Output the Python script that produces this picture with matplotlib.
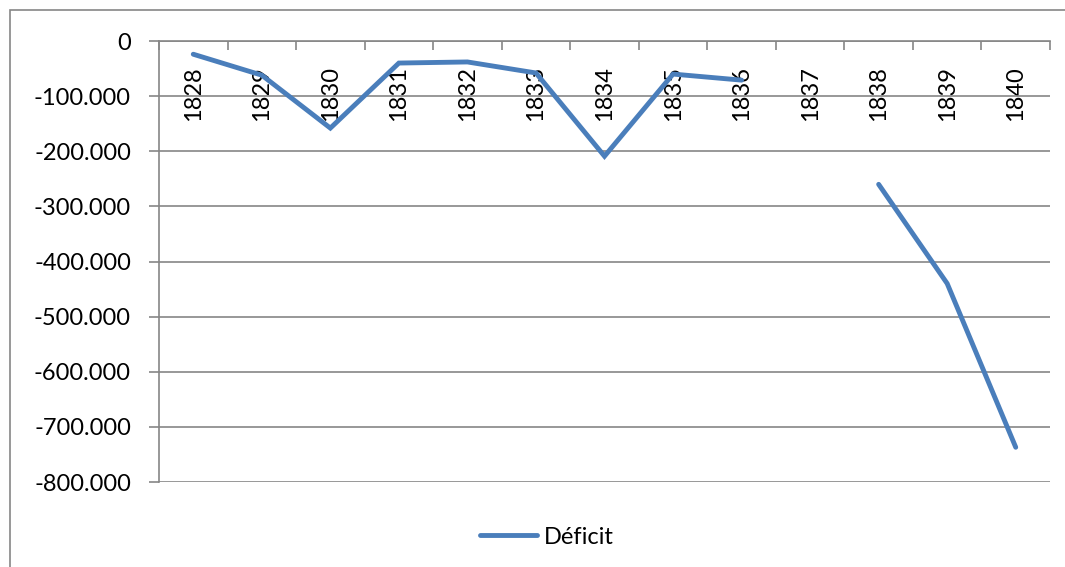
import numpy as np
import matplotlib
matplotlib.use("Agg")
import matplotlib.pyplot as plt
from matplotlib.patches import Rectangle
from matplotlib.ticker import FixedLocator, FixedFormatter, FuncFormatter

years = ["1828", "1829", "1830", "1831", "1832", "1833", "1834",
         "1835", "1836", "1837", "1838", "1839", "1840"]
deficit = [-24000, -62000, -158000, -40000, -38000, -58000, -209000,
           -60000, -71000, np.nan, -260000, -440000, -737000]
series_name = "Déficit"
yticks = [0, -100000, -200000, -300000, -400000, -500000, -600000, -700000, -800000]

plt.rcParams['font.family'] = ['Lato', 'DejaVu Sans']

W, H = 1065, 567
fig = plt.figure(figsize=(W / 100, H / 100), dpi=100)
ax = fig.add_axes([159 / W, 1 - 482 / H, (1050 - 159) / W, (482 - 41) / H])

grid_c = "#868686"
x = np.arange(len(years))
ax.plot(x, deficit, color="#4A7EBB", lw=3.5, solid_capstyle="round",
        solid_joinstyle="miter", label=series_name, zorder=3)

ax.set_xlim(-0.5, len(years) - 0.5)
ax.set_ylim(-800000, 0)

ax.set_yticks(yticks)
ax.yaxis.set_major_formatter(FuncFormatter(
    lambda v, p: "0" if v == 0 else "-{:,.0f}".format(abs(v)).replace(",", ".")))
ax.grid(axis="y", color=grid_c, lw=1.2)
ax.set_axisbelow(True)
ax.tick_params(axis="y", length=7.2, width=1.2, color=grid_c, pad=13,
               labelsize=17, labelcolor="black")

ax.spines["bottom"].set_position(("data", 0))
for s in ["top", "right"]:
    ax.spines[s].set_visible(False)
for s in ["left", "bottom"]:
    ax.spines[s].set_color(grid_c)
    ax.spines[s].set_linewidth(1.2)

ax.xaxis.set_major_locator(FixedLocator(np.arange(len(years) + 1) - 0.5))
ax.xaxis.set_major_formatter(FixedFormatter([""] * (len(years) + 1)))
ax.xaxis.set_minor_locator(FixedLocator(x))
ax.xaxis.set_minor_formatter(FixedFormatter(years))
ax.tick_params(axis="x", which="major", length=6.5, width=1.2, color=grid_c, direction="out")
ax.tick_params(axis="x", which="minor", length=0, pad=18, labelsize=17,
               labelrotation=90, labelcolor="black")

leg = fig.legend(loc="center", bbox_to_anchor=(547 / W, 1 - 537 / H), frameon=False,
                 fontsize=17, handlelength=2.4, handletextpad=0.3)

fig.patches.append(Rectangle((10 / W, -0.1), 1.2, 1.1 - 10 / H, transform=fig.transFigure,
                             fill=False, edgecolor=grid_c, lw=1.2))

fig.savefig("out.png", dpi=100)
